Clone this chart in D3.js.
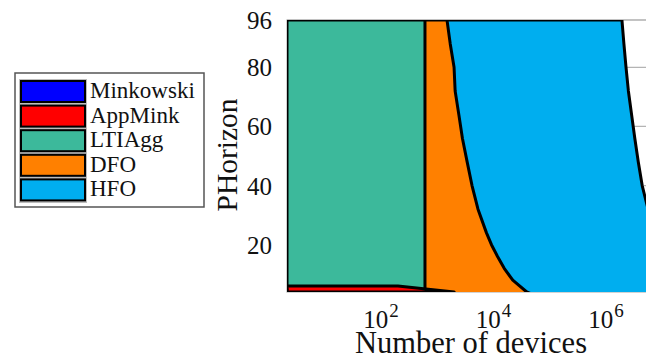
<!DOCTYPE html>
<html>
<head>
<meta charset="utf-8">
<script src="https://cdn.jsdelivr.net/npm/d3@7"></script>
<style>
  html, body { margin: 0; padding: 0; background: #fff; }
  svg { display: block; font-family: "Liberation Serif", "DejaVu Serif", serif; }
</style>
</head>
<body>
<svg id="chart" width="646" height="360"></svg>
<script>
// ---------- data ----------
const seriesNames = ["Minkowski", "AppMink", "LTIAgg", "DFO", "HFO"];
const seriesColors = ["#0000ff", "#ff0000", "#3cb99b", "#ff8000", "#00aeef"];

// PHorizon grid for the large regions (2 lies just below the visible axis)
const phGrid = [2, 4, 8, 12, 16, 20, 24, 32, 40, 48, 56, 64, 72, 80, 88, 96];
const hfoDevices = [9.0e7, 4.5e7, 2.2e7, 1.5e7, 1.1e7, 9.0e6, 7.5e6, 5.6e6, 4.4e6, 3.75e6, 3.25e6, 2.85e6, 2.5e6, 2.27e6, 2.08e6, 1.92e6];
const dfoDevices = [70000, 39000, 22000, 15500, 11800, 9200, 7500, 5300, 4150, 3400, 2800, 2420, 2080, 1990, 1700, 1490];
const ltiaggDevices = [605, 605, 605, 605, 605, 605, 605, 605, 605, 605, 605, 605, 605, 605, 605, 605];

const phAppMink = [4, 5, 6];
const appMinkDevices = [2000, 630, 200];
const phMinkowski = [4, 5];
const minkowskiDevices = [2, 2];

const yTicks = [20, 40, 60, 80, 96];
const xTickExps = [2, 4, 6];
const xLabel = "Number of devices";
const yLabel = "PHorizon";

// ---------- layout ----------
const svg = d3.select("#chart");
const pLeft = 287, pRight = 662, pTop = 20, pBottom = 292;

const x = d3.scaleLog().domain([1e2, 1e6]).range([381, 606]);
const y = d3.scaleLinear().domain([4, 96]).range([pBottom, pTop]);
const xMin = x.invert(pLeft);

svg.append("defs").append("clipPath").attr("id", "plotclip")
  .append("rect").attr("x", pLeft).attr("y", pTop)
  .attr("width", pRight - pLeft).attr("height", pBottom - pTop);

// frame and grid (under fills)
const gridG = svg.append("g");
gridG.selectAll("line.gy").data(yTicks).join("line")
  .attr("x1", pLeft).attr("x2", pRight)
  .attr("y1", d => y(d)).attr("y2", d => y(d))
  .attr("stroke", "#b4b4b4").attr("stroke-width", 1.2);
gridG.append("rect").attr("x", pLeft).attr("y", pTop)
  .attr("width", pRight - pLeft).attr("height", pBottom - pTop)
  .attr("fill", "none").attr("stroke", "#b4b4b4").attr("stroke-width", 1.2);

// regions
function regionPoints(phs, devs) {
  const pts = phs.map((p, i) => ({ ph: p, dev: devs[i] }))
    .sort((a, b) => b.ph - a.ph);
  const phMax = pts[0].ph, phMin = pts[pts.length - 1].ph;
  return [{ ph: phMax, dev: xMin }, ...pts, { ph: phMin, dev: xMin }];
}
const regions = [
  { name: "HFO", color: seriesColors[4], pts: regionPoints(phGrid, hfoDevices) },
  { name: "DFO", color: seriesColors[3], pts: regionPoints(phGrid, dfoDevices) },
  { name: "LTIAgg", color: seriesColors[2], pts: regionPoints(phGrid, ltiaggDevices) },
  { name: "AppMink", color: seriesColors[1], pts: regionPoints(phAppMink, appMinkDevices) },
  { name: "Minkowski", color: seriesColors[0], pts: regionPoints(phMinkowski, minkowskiDevices) }
];
const poly = d3.line().x(d => x(d.dev)).y(d => y(d.ph)).curve(d3.curveLinearClosed);
const plotG = svg.append("g").attr("clip-path", "url(#plotclip)");
plotG.selectAll("path").data(regions).join("path")
  .attr("d", d => poly(d.pts))
  .attr("fill", d => d.color)
  .attr("stroke", "#000").attr("stroke-width", 3)
  .attr("stroke-linejoin", "round");

// y tick labels
svg.append("g").selectAll("text").data(yTicks).join("text")
  .attr("x", 272).attr("y", d => y(d)).attr("dy", "0.36em")
  .attr("text-anchor", "end").attr("font-size", 25).attr("fill", "#111")
  .text(d => d);

// x tick labels
const xt = svg.append("g").selectAll("text").data(xTickExps).join("text")
  .attr("x", d => x(Math.pow(10, d))).attr("y", 328)
  .attr("text-anchor", "middle").attr("font-size", 25).attr("fill", "#111");
xt.append("tspan").text("10");
xt.append("tspan").attr("dx", 1).attr("dy", -11).attr("font-size", 19).text(d => d);

// axis labels
svg.append("text").attr("x", 471).attr("y", 353).attr("text-anchor", "middle")
  .attr("font-size", 30.5).attr("fill", "#111").text(xLabel);
svg.append("text").attr("transform", "translate(237,155) rotate(-90)")
  .attr("text-anchor", "middle").attr("font-size", 29.5).attr("fill", "#111").text(yLabel);

// legend
const lg = svg.append("g");
lg.append("rect").attr("x", 15).attr("y", 73).attr("width", 189).attr("height", 134)
  .attr("fill", "#fff").attr("stroke", "#555").attr("stroke-width", 1.5);
lg.append("rect").attr("x", 19).attr("y", 79).attr("width", 68).attr("height", 124)
  .attr("fill", "#bdbdbd");
const pitch = 24.6;
const items = lg.selectAll("g.it").data(seriesNames).join("g")
  .attr("transform", (d, i) => `translate(0,${i * pitch})`);
items.append("rect").attr("x", 21).attr("y", 81).attr("width", 64).attr("height", 21)
  .attr("fill", (d, i) => seriesColors[i]).attr("stroke", "#000").attr("stroke-width", 2);
items.append("text").attr("x", 90).attr("y", 98).attr("font-size", 23).attr("fill", "#111")
  .text(d => d);
</script>
</body>
</html>
